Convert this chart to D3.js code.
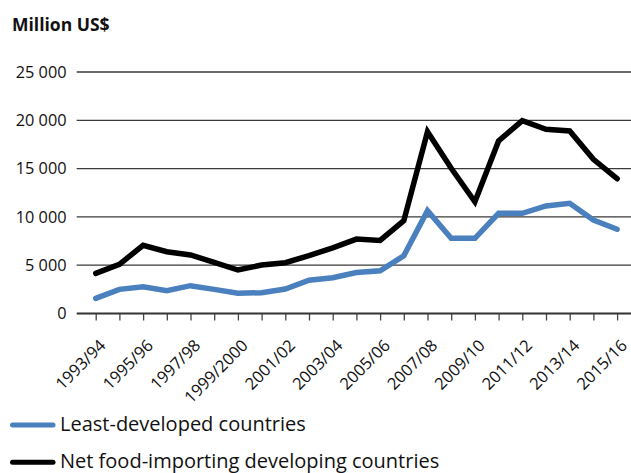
<!DOCTYPE html>
<html><head><meta charset="utf-8">
<script src="https://cdn.jsdelivr.net/npm/d3@7"></script>
<style>
html,body{margin:0;padding:0;background:#fff;}
svg{display:block;font-family:"Open Sans",sans-serif;}
</style></head>
<body><svg id="c" width="631" height="473"></svg>
<script>
const categories = ["1993/94","1994/95","1995/96","1996/97","1997/98","1998/99","1999/2000","2000/01","2001/02","2002/03","2003/04","2004/05","2005/06","2006/07","2007/08","2008/09","2009/10","2010/11","2011/12","2012/13","2013/14","2014/15","2015/16"];
const leastDeveloped = [1570,2500,2770,2360,2880,2500,2090,2150,2540,3440,3710,4240,4430,5980,10640,7780,7780,10370,10370,11130,11410,9680,8720];
const netFoodImporting = [4160,5090,7060,6400,6060,5300,4500,5020,5260,5990,6800,7700,7560,9610,18820,15030,11570,17860,19960,19070,18890,15960,13950];
const yTicks = [0,5000,10000,15000,20000,25000];
const xLabels = ["1993/94","1995/96","1997/98","1999/2000","2001/02","2003/04","2005/06","2007/08","2009/10","2011/12","2013/14","2015/16"];
const seriesNames = ["Least-developed countries","Net food-importing developing countries"];
const seriesColors = ["#4a80bd","#000000"];

const svg = d3.select("#c");
const x = d3.scalePoint().domain(categories).range([95.7, 617.1]);
const y = d3.scaleLinear().domain([0,25000]).range([313.5, 72]);
const axisLeftX = 76.7, axisRightX = 631;
const fmt = v => d3.format(",")(v).replace(/,/g, " ");

// title
svg.append("text").attr("x",12).attr("y",30.7).attr("font-weight","bold").attr("font-size",17.5).attr("fill","#111").text("Million US$");

// gridlines
svg.append("g").selectAll("line").data(yTicks.filter(d=>d>0)).join("line")
  .attr("x1",axisLeftX).attr("x2",axisRightX)
  .attr("y1",d=>y(d)).attr("y2",d=>y(d))
  .attr("stroke","#3a3a3a").attr("stroke-width",1.3);

// y labels
svg.append("g").selectAll("text").data(yTicks).join("text")
  .attr("x",66.5).attr("y",d=>y(d)).attr("dy","0.36em")
  .attr("text-anchor","end").attr("font-size",16.3).attr("fill","#111")
  .text(d=>fmt(d));

// x axis
const xAxis = d3.axisBottom(x).tickSize(7).tickFormat("");
const gx = svg.append("g").attr("transform",`translate(0,${y(0)})`).call(xAxis);
gx.select(".domain").remove();
gx.selectAll(".tick line").attr("stroke","#444").attr("stroke-width",1.3);
svg.append("line").attr("x1",axisLeftX).attr("x2",axisRightX).attr("y1",y(0)).attr("y2",y(0))
  .attr("stroke","#333").attr("stroke-width",2);

// x labels
svg.append("g").selectAll("text").data(xLabels).join("text")
  .attr("transform",d=>`translate(${x(d)+11},${y(0)+33}) rotate(-45)`)
  .attr("text-anchor","end").attr("font-size",16.5).attr("fill","#111")
  .text(d=>d);

// lines
const line = d3.line().x((d,i)=>x(categories[i])).y(d=>y(d));
[leastDeveloped, netFoodImporting].forEach((s,k)=>{
  svg.append("path").datum(s).attr("d",line).attr("fill","none")
    .attr("stroke",seriesColors[k]).attr("stroke-width",5.5)
    .attr("stroke-linejoin","miter").attr("stroke-linecap","round");
});

// legend
const leg = svg.append("g");
[[425,431],[462.3,467.8]].forEach(([ly,ty],k)=>{
  leg.append("line").attr("x1",12.5).attr("x2",53).attr("y1",ly).attr("y2",ly)
    .attr("stroke",seriesColors[k]).attr("stroke-width",5).attr("stroke-linecap","round");
  leg.append("text").attr("x",60).attr("y",ty)
    .attr("font-size",20).attr("fill","#111").text(seriesNames[k]);
});
</script></body></html>
